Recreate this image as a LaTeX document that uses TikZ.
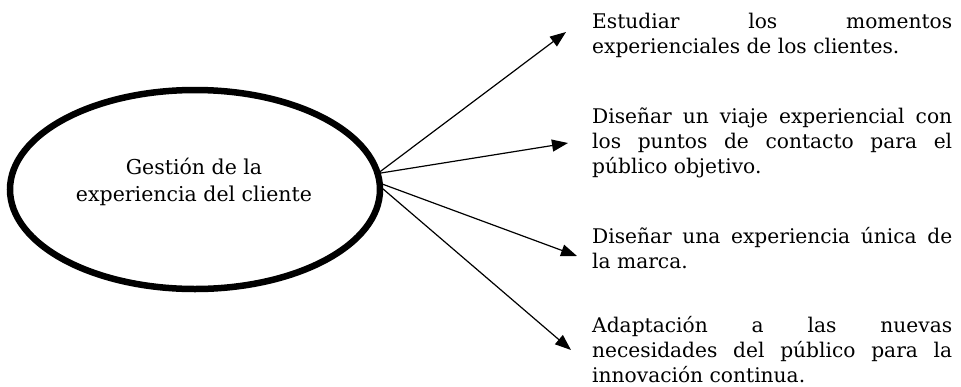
\documentclass[tikz,border=0pt]{standalone}
\usepackage{fontspec}
\setmainfont{DejaVu Serif}
\usetikzlibrary{shapes.geometric,arrows.meta}
\newcommand{\jline}[1]{\makebox[360pt][s]{#1}}
\begin{document}
\begin{tikzpicture}[x=1pt,y=-1pt,
  bubble/.style={ellipse, draw, line width=6.5pt, minimum width=370pt, minimum height=199pt, inner sep=0pt, outer sep=0pt},
  ctext/.style={align=center, inner sep=0pt, font=\fontsize{20.5}{26.5}\selectfont},
  rtext/.style={align=left, inner sep=0pt, anchor=base west, font=\fontsize{20.2}{25}\selectfont},
  conn/.style={line width=1.2pt, -{Triangle[length=16pt,width=12pt]}}]
\useasboundingbox (0,0) rectangle (961,386);
\node[bubble] (c) at (195,189.5) {};
\node[ctext, anchor=base] (ct) at (194,201) {Gestión de la\\experiencia del cliente};

\node[rtext] (t1) at (592,53) {\jline{Estudiar los momentos}\\experienciales de los clientes.};
\node[rtext] (t2) at (592,173) {\jline{Diseñar un viaje experiencial con}\\\jline{los puntos de contacto para el}\\público objetivo.};
\node[rtext] (t3) at (592,268) {\jline{Diseñar una experiencia única de}\\la marca.};
\node[rtext] (t4) at (592,382) {\jline{Adaptación a las nuevas}\\\jline{necesidades del público para la}\\innovación continua.};

\coordinate (e1) at (566,32);
\coordinate (e2) at (568,143);
\coordinate (e3) at (577,256);
\coordinate (e4) at (571,350);
\draw[conn] (c.5) -- (e1);
\draw[conn] (c.5) -- (e2);
\draw[conn] (c.2.3) -- (e3);
\draw[conn] (c.1.4) -- (e4);
\end{tikzpicture}
\end{document}
